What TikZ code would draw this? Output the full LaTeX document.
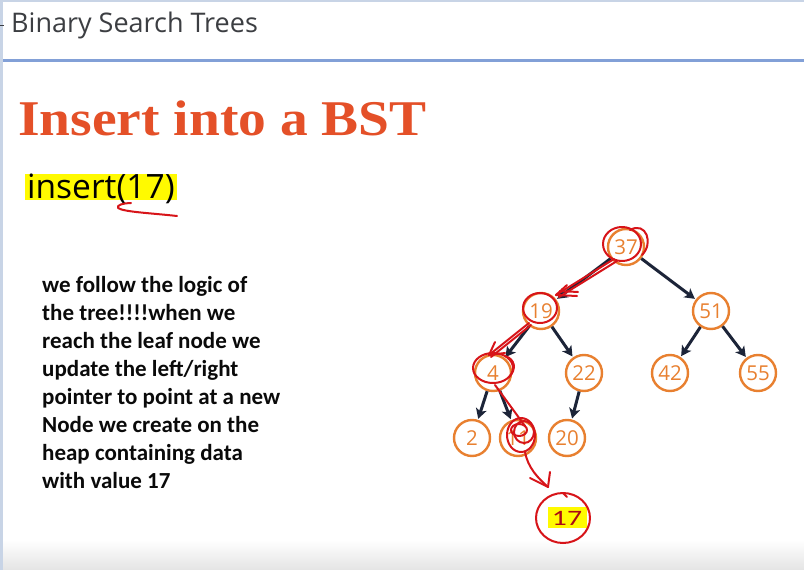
\documentclass[tikz,border=0pt]{standalone}
\usepackage{fontspec}
\usetikzlibrary{arrows.meta,calc}
\newfontfamily\uifont{Open Sans}
\newfontfamily\headfont{Liberation Serif}
\newfontfamily\bodyfont{Carlito}
\definecolor{framecol}{RGB}{200,212,230}
\definecolor{rulecol}{RGB}{130,160,215}
\definecolor{titlecol}{RGB}{60,62,66}
\definecolor{headcol}{RGB}{228,80,40}
\definecolor{treeorange}{RGB}{232,128,48}
\definecolor{edgecol}{RGB}{28,36,56}
\definecolor{penred}{RGB}{215,20,25}
\definecolor{inkred}{RGB}{170,10,20}
\definecolor{marker}{RGB}{255,250,0}
\definecolor{footgrey}{RGB}{228,228,228}
\tikzset{
  tnode/.style={circle, draw=treeorange, line width=2.4pt, minimum size=36pt,
    inner sep=0pt, text=treeorange, font=\uifont\fontsize{20.5}{21}\selectfont},
  darrow/.style={draw=edgecol, line width=3pt, shorten >=1pt,
    -{Stealth[length=10pt,width=11pt,inset=2.5pt]}},
  redpen/.style={draw=penred, line width=2pt, line cap=round, line join=round},
}
\begin{document}
\begin{tikzpicture}[x=1pt,y=-1pt]
\useasboundingbox (0,0) rectangle (804,570);
\fill[white] (0,0) rectangle (804,570);
% window frame and footer
\shade[top color=white, bottom color=footgrey] (0,540) rectangle (804,570);
\fill[framecol] (0,0) rectangle (804,2);
\fill[framecol] (0,0) rectangle (2.5,570);
\draw[titlecol, line width=0.8pt] (0,25) -- (4,25);
\fill[rulecol] (2.5,59) rectangle (804,61.5);

% page title
\node[anchor=base west, inner sep=0pt, text=titlecol, font=\uifont\fontsize{27}{30}\selectfont]
  (title) at (11,32) {Binary Search Trees};

% slide heading
\node[anchor=base west, inner sep=0pt, xscale=1.11, text=headcol,
  font=\headfont\bfseries\fontsize{50}{55}\selectfont] (head) at (18,135) {Insert into a BST};

% highlighted call
\fill[marker] (25,174) rectangle (177,200);
\node[anchor=base west, inner sep=0pt, font=\uifont\fontsize{33.5}{36}\selectfont]
  (call) at (27,198) {insert(17)};
\draw[redpen] (131,203) .. controls (124,203) and (116,205) .. (118,208)
  .. controls (124,212) and (150,213) .. (177,216);

% explanation
\node[anchor=north west, inner sep=0pt, align=left, text={rgb,255:red,10;green,10;blue,10},
  font=\bodyfont\bfseries\fontsize{23}{28}\selectfont] (note) at (42,276)
  {we follow the logic of\\
   the tree!!!!when we\\
   reach the leaf node we\\
   update the left/right\\
   pointer to point at a new\\
   Node we create on the\\
   heap containing data\\
   with value 17};

% tree
\node[tnode] (n37) at (626,247) {37};
\node[tnode] (n19) at (541,311) {19};
\node[tnode] (n51) at (711,311) {51};
\node[tnode] (n4)  at (493,373) {4};
\node[tnode] (n22) at (584,373) {22};
\node[tnode] (n42) at (670,373) {42};
\node[tnode] (n55) at (758,373) {55};
\node[tnode] (n2)  at (472,438) {2};
\node[tnode] (n11) at (518,438) {11};
\node[tnode] (n20) at (567,438) {20};

\draw[darrow] (n37) -- (n19);
\draw[darrow] (n37) -- (n51);
\draw[darrow] (n19) -- (n4);
\draw[darrow] (n19) -- (n22);
\draw[darrow] (n51) -- (n42);
\draw[darrow] (n51) -- (n55);
\draw[darrow] (n4) -- (n2);
\draw[darrow] (n4) -- (n11);
\draw[darrow] (n22) -- (n20);

% pen marks tracing the search path
\draw[redpen] ($(n37)+(-4,-3)$) ellipse [x radius=19, y radius=17];
\draw[redpen] ($(n37)+(4,-17)$) .. controls ($(n37)+(20,-26)$) and ($(n37)+(28,-4)$) .. ($(n37)+(16,8)$);
\coordinate (t19) at ($(n19)+(15,-16)$);
\draw[redpen] ($(n37)+(-12,12)$) -- (t19);
\draw[redpen] ($(n37)+(-9,14)$) -- ($(t19)+(3,2)$);
\draw[redpen] (t19) -- ++(21,1);
\draw[redpen] (t19) -- ++(11,-10);
\draw[redpen] ($(t19)+(4,-4)$) -- ++(18,1);

\draw[redpen] ($(n19)+(-1,-3)$) ellipse [x radius=17, y radius=15];
\coordinate (t4) at ($(n4)+(-4,-18)$);
\draw[redpen] ($(n19)+(-12,12)$) -- (t4);
\draw[redpen] ($(n19)+(-10,14)$) -- ($(t4)+(2,2)$);
\draw[redpen] (t4) -- ++(16,-2);
\draw[redpen] (t4) -- ++(6,-13);

\draw[redpen] ($(n4)+(0,-5)$) ellipse [x radius=20, y radius=15];
\draw[redpen] ($(n4)+(12,-17)$) .. controls ($(n4)+(22,-14)$) and ($(n4)+(24,-4)$) .. ($(n4)+(16,4)$);

\draw[redpen] ($(n4)+(2,12)$) -- ($(n11)+(7,-12)$);
\draw[redpen] ($(n11)+(3,-3)$) ellipse [x radius=14, y radius=17];
\draw[redpen] ($(n11)+(6,-6)$) ellipse [x radius=10, y radius=11];
\draw[redpen] ($(n11)+(1,-8)$) ellipse [x radius=8, y radius=6];

\coordinate (t17) at (548,487);
\draw[redpen] ($(n11)+(7,14)$) .. controls ($(n11)+(10,30)$) and (538,478) .. (t17);
\draw[redpen] (t17) -- (530,478);
\draw[redpen] (t17) -- (550,472);

% the new node
\fill[marker] (548,507) rectangle (587,528);
\node[inner sep=0pt, xscale=1.35, text=inkred, font=\bodyfont\fontsize{22}{22}\selectfont]
  (n17) at (567,518) {17};
\draw[redpen] (563,518) ellipse [x radius=27, y radius=25];
\draw[redpen] (563,493) -- (567,497);
\end{tikzpicture}
\end{document}
